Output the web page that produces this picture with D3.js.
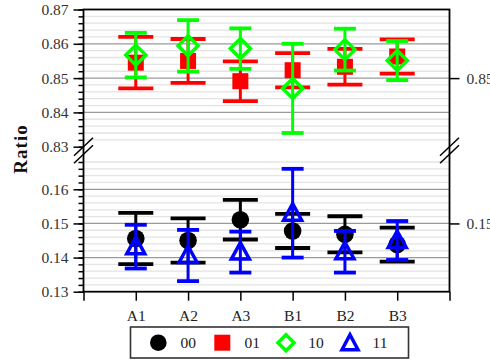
<!DOCTYPE html>
<html><head><meta charset="utf-8">
<script src="https://cdn.jsdelivr.net/npm/d3@7"></script>
<style>body{margin:0;background:#fff}svg{display:block;font-family:"Liberation Serif",serif}</style>
</head><body><svg id="c" width="490" height="360"></svg>
<script>
const categories = ["A1","A2","A3","B1","B2","B3"];
const seriesNames = ["00","01","10","11"];
const mean00 = [0.1456, 0.1450, 0.1511, 0.1478, 0.1468, 0.1438];
const err00  = [0.0075, 0.0065, 0.0058, 0.0050, 0.0053, 0.0050];
const mean01 = [0.8545, 0.8550, 0.8491, 0.8523, 0.8533, 0.8563];
const err01  = [0.0075, 0.0064, 0.0058, 0.0050, 0.0052, 0.0050];
const mean10 = [0.8567, 0.8594, 0.8586, 0.8470, 0.8583, 0.8551];
const err10  = [0.0065, 0.0075, 0.0059, 0.0130, 0.0061, 0.0057];
const mean11 = [0.1432, 0.1406, 0.1416, 0.1530, 0.1417, 0.1450];
const err11  = [0.0064, 0.0075, 0.0060, 0.0130, 0.0061, 0.0057];
const topMajor = [0.83,0.84,0.85,0.86,0.87];
const botMajor = [0.13,0.14,0.15,0.16];
const topRightTicks = [0.85];
const botRightTicks = [0.15];

const svg = d3.select("#c");
const L=83.5, R=449.5, T=9.5, B=291.7;
const x = d3.scaleLinear().domain([0,7]).range([L,R]);
const yTop = d3.scaleLinear().domain([0.83,0.87]).range([146.7,T]);
const yBot = d3.scaleLinear().domain([0.13,0.16]).range([B,189.3]);

const minorTop = d3.range(0,21).map(i=>+(0.83+i*0.002).toFixed(3));
const minorBot = d3.range(0,20).map(i=>+(0.13+i*0.002).toFixed(3));

// grid
function grid(scale, vals){
  svg.append("g").selectAll("line").data(vals.filter(v=>{
    const r = Math.round(v*1000)%10===0; return true;})).join("line")
    .attr("x1",L).attr("x2",R)
    .attr("y1",d=>scale(d)).attr("y2",d=>scale(d))
    .attr("stroke",d=>Math.round(d*1000)%10===0?"#9a9a9a":"#c8c8c8")
    .attr("stroke-width",d=>Math.round(d*1000)%10===0?1.2:1.3)
    .attr("stroke-dasharray",d=>Math.round(d*1000)%10===0?null:"1,1");
}
grid(yTop, minorTop.filter(v=>v>0.8305 && v<0.8695));
grid(yBot, minorBot.filter(v=>v>0.1305 && v<0.1685));

// left axes
function leftAxis(scale, major, minor){
  const g1 = svg.append("g").attr("transform",`translate(${L},0)`)
    .call(d3.axisLeft(scale).tickValues(minor).tickSize(5).tickFormat(""));
  g1.select(".domain").remove();
  g1.selectAll("line").attr("stroke","#000").attr("stroke-width",1.5);
  const g2 = svg.append("g").attr("transform",`translate(${L},0)`)
    .call(d3.axisLeft(scale).tickValues(major).tickSize(10).tickPadding(5).tickFormat(d3.format(".2f")));
  g2.select(".domain").remove();
  g2.selectAll("line").attr("stroke","#000").attr("stroke-width",1.5);
  g2.selectAll("text").attr("font-family","Liberation Serif").attr("font-size",15.5).attr("fill","#333");
}
leftAxis(yTop, topMajor, minorTop);
leftAxis(yBot, botMajor, minorBot);

function rightAxis(scale, vals){
  const g = svg.append("g").attr("transform",`translate(${R},0)`)
    .call(d3.axisRight(scale).tickValues(vals).tickSize(10).tickPadding(7).tickFormat(d3.format(".2f")));
  g.select(".domain").remove();
  g.selectAll("line").attr("stroke","#000").attr("stroke-width",1.5);
  g.selectAll("text").attr("font-family","Liberation Serif").attr("font-size",15.5).attr("fill","#333");
}
rightAxis(yTop, topRightTicks);
rightAxis(yBot, botRightTicks);

// x axis
const gx = svg.append("g").attr("transform",`translate(0,${B})`)
  .call(d3.axisBottom(x).tickValues(d3.range(0,8)).tickSize(9).tickPadding(9)
    .tickFormat(i=>categories[i-1]||""));
gx.select(".domain").remove();
gx.selectAll("line").attr("stroke","#000").attr("stroke-width",1.5);
gx.selectAll("text").attr("font-family","Liberation Serif").attr("font-size",15.5).attr("fill","#222");

// frame
svg.append("rect").attr("x",L).attr("y",T).attr("width",R-L).attr("height",B-T)
  .attr("fill","none").attr("stroke","#000").attr("stroke-width",1.8);

// break marks
[L,R].forEach(cx=>{
  [146.7,154.2].forEach(cy=>{
    svg.append("line").attr("x1",cx-9.5).attr("y1",cy+9).attr("x2",cx+9.5).attr("y2",cy-9)
      .attr("stroke","#000").attr("stroke-width",1.5);
  });
});

// markers
const sym = {
  "00": (g,c)=>g.append("circle").attr("r",8.8).attr("fill",c),
  "01": (g,c)=>g.append("rect").attr("x",-8).attr("y",-8).attr("width",16).attr("height",16).attr("fill",c),
  "10": (g,c)=>g.append("path").attr("d","M0,-10L10,0L0,10L-10,0Z").attr("fill","none").attr("stroke",c).attr("stroke-width",3.5),
  "11": (g,c)=>g.append("path").attr("d","M0,-9.5L9,7L-9,7Z").attr("fill","none").attr("stroke",c).attr("stroke-width",3.5).attr("stroke-linejoin","miter")
};
const colors = {"00":"#000000","01":"#ff0000","10":"#00ff00","11":"#0000ff"};
const capW = {"00":35,"01":35,"10":22,"11":22};

function series(name, scale, means, errs){
  const c = colors[name];
  const g = svg.append("g");
  means.forEach((m,i)=>{
    const cx = x(i+1), e = errs[i];
    const yh = scale(m+e), yl = scale(m-e);
    g.append("line").attr("x1",cx).attr("x2",cx).attr("y1",yh).attr("y2",yl).attr("stroke",c).attr("stroke-width",3);
    [yh,yl].forEach(yy=>g.append("line").attr("x1",cx-capW[name]/2).attr("x2",cx+capW[name]/2)
      .attr("y1",yy).attr("y2",yy).attr("stroke",c).attr("stroke-width",3.8));
    const mg = g.append("g").attr("transform",`translate(${cx},${scale(m)})`);
    sym[name](mg,c);
  });
}
series("01", yTop, mean01, err01);
series("10", yTop, mean10, err10);
series("00", yBot, mean00, err00);
series("11", yBot, mean11, err11);

// y title
svg.append("text").attr("transform","translate(27,149) rotate(-90)")
  .attr("text-anchor","middle").attr("font-family","Liberation Serif").attr("font-weight","bold")
  .attr("font-size",19).attr("letter-spacing",1).attr("fill","#111").text("Ratio");

// legend
const lg = svg.append("g");
lg.append("rect").attr("x",130.5).attr("y",327).attr("width",278).attr("height",31)
  .attr("fill","#fff").attr("stroke","#333").attr("stroke-width",1.6);
const legX = [158.3, 222.3, 286, 350];
seriesNames.forEach((n,i)=>{
  const mg = lg.append("g").attr("transform",`translate(${legX[i]},342.7)`);
  if(n==="00") mg.append("circle").attr("r",8.3).attr("fill",colors[n]);
  else if(n==="01") mg.append("rect").attr("x",-8).attr("y",-8).attr("width",16).attr("height",16).attr("fill",colors[n]);
  else if(n==="10") mg.append("path").attr("d","M0,-8L8,0L0,8L-8,0Z").attr("fill","none").attr("stroke",colors[n]).attr("stroke-width",3.5);
  else mg.append("path").attr("d","M0,-8L8,7L-8,7Z").attr("fill","none").attr("stroke",colors[n]).attr("stroke-width",3.5);
  lg.append("text").attr("x",legX[i]+30).attr("y",342.7).attr("dy","0.35em").attr("text-anchor","middle")
    .attr("font-family","Liberation Serif").attr("font-size",15.5).attr("fill","#222").text(n);
});
</script></body></html>
